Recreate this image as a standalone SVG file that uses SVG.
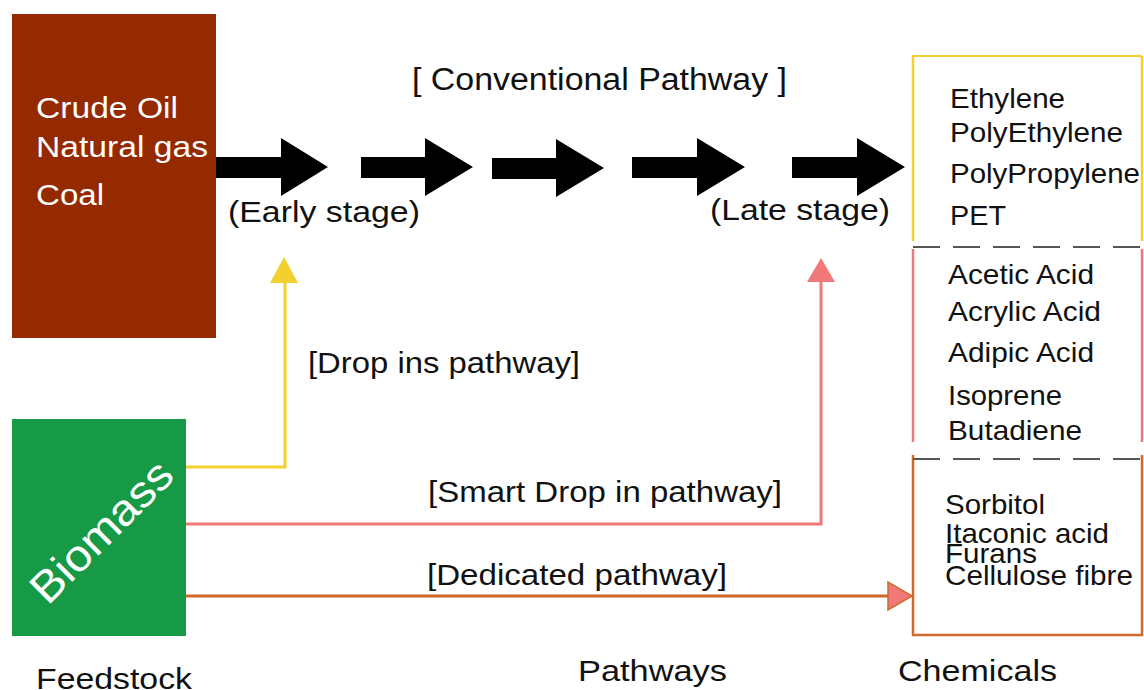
<svg xmlns="http://www.w3.org/2000/svg" width="1144" height="690" viewBox="0 0 1144 690">
<style>
text{font-family:"Liberation Sans",Arial,sans-serif;fill:#111}
.w{fill:#fff}
.lbl{font-size:30px}
.chem{font-size:28px}
.big{font-size:31px}
.blk{fill:#000}
.conn{fill:none;stroke-width:3}
.dash{stroke:#555;stroke-width:2;stroke-dasharray:27 13;fill:none}
</style>
<rect width="1144" height="690" fill="#fff"/>
<g id="fossil">
<rect x="12" y="14" width="204" height="324" fill="#952a00"/>
<text class="w lbl" x="36" y="118" textLength="142" lengthAdjust="spacingAndGlyphs">Crude Oil</text>
<text class="w lbl" x="36" y="157" textLength="172" lengthAdjust="spacingAndGlyphs">Natural gas</text>
<text class="w lbl" x="36" y="205" textLength="68" lengthAdjust="spacingAndGlyphs">Coal</text>
</g>
<g id="biomass">
<rect x="12" y="419" width="174" height="217" fill="#169a45"/>
<text class="w" x="112" y="542" font-size="44" text-anchor="middle" transform="rotate(-45 112 542)" textLength="182" lengthAdjust="spacingAndGlyphs">Biomass</text>
</g>
<g id="conventional">
<text class="big" x="412" y="90" textLength="375" lengthAdjust="spacingAndGlyphs">[ Conventional Pathway ]</text>
<polygon class="blk" points="216,157 281,157 281,138 328,167 281,196 281,178 216,178"/>
<polygon class="blk" points="361,157 425,157 425,138 473,167 425,196 425,178 361,178"/>
<polygon class="blk" points="492,158 556,158 556,139 604,168 556,197 556,179 492,179"/>
<polygon class="blk" points="632,157 697,157 697,138 745,167 697,196 697,178 632,178"/>
<polygon class="blk" points="792,157 857,157 857,138 905,167 857,196 857,178 792,178"/>
<text class="lbl" x="228" y="222" textLength="192" lengthAdjust="spacingAndGlyphs">(Early stage)</text>
<text class="lbl" x="710" y="220" textLength="180" lengthAdjust="spacingAndGlyphs">(Late stage)</text>
</g>
<g id="chemicals">
<line x1="912" y1="56" x2="1142" y2="56" stroke="#f2d12e" stroke-width="2"/>
<line x1="913" y1="56" x2="913" y2="241" stroke="#f2d12e" stroke-width="2.5"/>
<line x1="1142" y1="56" x2="1142" y2="241" stroke="#f2d12e" stroke-width="2.5"/>
<line x1="913" y1="249" x2="913" y2="442" stroke="#f07878" stroke-width="2.5"/>
<line x1="1142" y1="249" x2="1142" y2="442" stroke="#f07878" stroke-width="2.5"/>
<polyline points="913,455 913,635 1142,635 1142,455" fill="none" stroke="#d2692c" stroke-width="2.5"/>
<line class="dash" x1="913" y1="247" x2="1144" y2="247"/>
<line class="dash" x1="913" y1="459" x2="1144" y2="459"/>
<text class="chem" x="950" y="108" textLength="115" lengthAdjust="spacingAndGlyphs">Ethylene</text>
<text class="chem" x="950" y="142" textLength="173" lengthAdjust="spacingAndGlyphs">PolyEthylene</text>
<text class="chem" x="950" y="183" textLength="190" lengthAdjust="spacingAndGlyphs">PolyPropylene</text>
<text class="chem" x="950" y="225" textLength="56" lengthAdjust="spacingAndGlyphs">PET</text>
<text class="chem" x="948" y="284" textLength="146" lengthAdjust="spacingAndGlyphs">Acetic Acid</text>
<text class="chem" x="948" y="321" textLength="153" lengthAdjust="spacingAndGlyphs">Acrylic Acid</text>
<text class="chem" x="948" y="362" textLength="146" lengthAdjust="spacingAndGlyphs">Adipic Acid</text>
<text class="chem" x="948" y="405" textLength="114" lengthAdjust="spacingAndGlyphs">Isoprene</text>
<text class="chem" x="948" y="440" textLength="134" lengthAdjust="spacingAndGlyphs">Butadiene</text>
<text class="chem" x="945" y="514" textLength="100" lengthAdjust="spacingAndGlyphs">Sorbitol</text>
<text class="chem" x="945" y="543" textLength="164" lengthAdjust="spacingAndGlyphs">Itaconic acid</text>
<text class="chem" x="945" y="563" textLength="92" lengthAdjust="spacingAndGlyphs">Furans</text>
<text class="chem" x="945" y="585" textLength="188" lengthAdjust="spacingAndGlyphs">Cellulose fibre</text>
</g>
<g id="connectors">
<polyline class="conn" points="186,467 285,467 285,282" stroke="#f2d12e"/>
<polygon points="270,283 298,283 284,257" fill="#f2d12e"/>
<polyline class="conn" points="186,524 821,524 821,280" stroke="#f07878"/>
<polygon points="807,282 835,282 821,258" fill="#f07878"/>
<line class="conn" x1="186" y1="596" x2="890" y2="596" stroke="#d2692c"/>
<polygon points="888,582 888,610 912,596" fill="#f07878" stroke="#d2692c" stroke-width="1.5"/>
</g>
<g id="labels">
<text class="lbl" x="308" y="373" textLength="272" lengthAdjust="spacingAndGlyphs">[Drop ins pathway]</text>
<text class="lbl" x="428" y="502" textLength="354" lengthAdjust="spacingAndGlyphs">[Smart Drop in pathway]</text>
<text class="lbl" x="427" y="585" textLength="300" lengthAdjust="spacingAndGlyphs">[Dedicated pathway]</text>
<text class="lbl" x="36" y="689" textLength="156" lengthAdjust="spacingAndGlyphs">Feedstock</text>
<text class="lbl" x="578" y="681" textLength="149" lengthAdjust="spacingAndGlyphs">Pathways</text>
<text class="lbl" x="898" y="681" textLength="159" lengthAdjust="spacingAndGlyphs">Chemicals</text>
</g>
</svg>
